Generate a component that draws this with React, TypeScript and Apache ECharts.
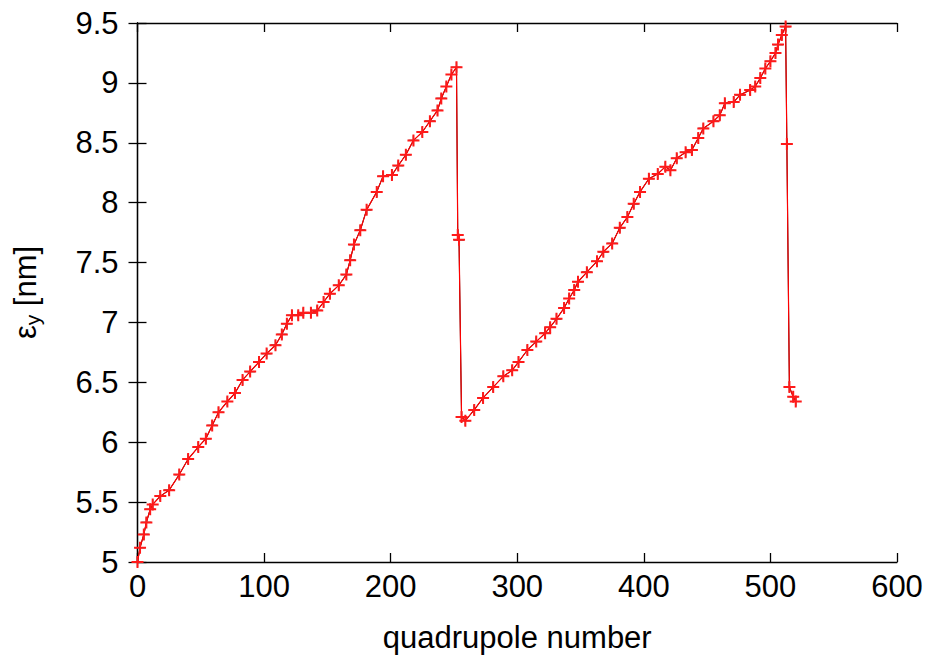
import React, { useEffect, useRef } from "react";
import * as echarts from "echarts";

const quadrupole: number[] = [
  0, 2, 5, 7, 10, 12, 18, 25, 33, 40, 48, 54, 59, 64, 71, 77, 83, 89, 96, 102,
  109, 114, 118, 122, 127, 131, 137, 142, 147, 152, 159, 165, 168, 171, 176, 181,
  189, 194, 201, 206, 212, 218, 225, 231, 237, 240, 244, 248, 252, 253, 254, 256,
  259, 266, 273, 281, 289, 296, 301, 308, 315, 322, 326, 331, 337, 341, 345, 348,
  355, 363, 368, 375, 381, 387, 392, 397, 404, 411, 417, 421, 426, 433, 438, 443,
  447, 455, 460, 464, 471, 476, 484, 488, 492, 496, 500, 504, 506, 509, 512, 513,
  515, 518, 520,
];

const emittanceY: number[] = [
  5.0, 5.12, 5.23, 5.33, 5.44, 5.48, 5.55, 5.6, 5.73, 5.86, 5.96, 6.03, 6.14, 6.25,
  6.34, 6.41, 6.52, 6.59, 6.67, 6.74, 6.81, 6.9, 6.99, 7.06, 7.06, 7.08, 7.08, 7.1,
  7.17, 7.24, 7.31, 7.4, 7.52, 7.65, 7.77, 7.94, 8.09, 8.22, 8.23, 8.31, 8.4, 8.52,
  8.59, 8.68, 8.77, 8.87, 8.97, 9.07, 9.13, 7.73, 7.69, 6.21, 6.18, 6.27, 6.37, 6.46,
  6.55, 6.6, 6.67, 6.77, 6.84, 6.91, 6.96, 7.03, 7.12, 7.2, 7.27, 7.34, 7.42, 7.51,
  7.59, 7.66, 7.79, 7.88, 7.99, 8.09, 8.2, 8.24, 8.3, 8.27, 8.37, 8.42, 8.44, 8.54,
  8.62, 8.68, 8.73, 8.83, 8.84, 8.9, 8.94, 8.97, 9.04, 9.12, 9.18, 9.25, 9.32, 9.4,
  9.47, 8.49, 6.46, 6.38, 6.34,
];

const xTicks = { min: 0, max: 600, interval: 100 };
const yTicks = { min: 5, max: 9.5, interval: 0.5 };

const FONT = "Liberation Sans";
const PLUS = "path://M0,5L10,5M5,0L5,10";

export default function App() {
  const ref = useRef<HTMLDivElement>(null);
  useEffect(() => {
    if (!ref.current) return;
    const chart = echarts.init(ref.current, undefined, { renderer: "svg" });
    const pts = quadrupole.map((x, i) => [x, emittanceY[i]]);
    const axisLine = { show: true, lineStyle: { color: "#000", width: 1.3 } };
    const tick = { show: true, inside: true, length: 9, lineStyle: { color: "#000", width: 1.3 } };
    const labelStyle = { fontFamily: FONT, fontSize: 31, color: "#000" };
    chart.setOption({
      animation: false,
      backgroundColor: "#fff",
      grid: { left: 137, right: 35, top: 23, bottom: 100, containLabel: false },
      xAxis: [
        {
          type: "value",
          ...xTicks,
          position: "bottom",
          axisLine,
          axisTick: tick,
          splitLine: { show: false },
          axisLabel: { ...labelStyle, margin: 9, formatter: (v: number) => String(v) },
          name: "quadrupole number",
          nameLocation: "middle",
          nameGap: 60,
          nameTextStyle: { fontFamily: FONT, fontSize: 31, color: "#000" },
        },
        {
          type: "value",
          ...xTicks,
          position: "top",
          axisLine,
          axisTick: tick,
          splitLine: { show: false },
          axisLabel: { show: false },
        },
      ],
      yAxis: [
        {
          type: "value",
          ...yTicks,
          position: "left",
          axisLine,
          axisTick: tick,
          splitLine: { show: false },
          axisLabel: { ...labelStyle, margin: 19, formatter: (v: number) => String(v) },
          name: "{e|ε}{s|y}{e| [nm]}",
          nameLocation: "middle",
          nameRotate: 90,
          nameGap: 92,
          nameTextStyle: {
            fontFamily: FONT,
            color: "#000",
            rich: {
              e: { fontFamily: FONT, fontSize: 31, color: "#000", lineHeight: 40 },
              s: { fontFamily: FONT, fontSize: 21, color: "#000", lineHeight: 40, padding: [14, 0, 0, 0] },
            },
          },
        },
        {
          type: "value",
          ...yTicks,
          position: "right",
          axisLine,
          axisTick: tick,
          splitLine: { show: false },
          axisLabel: { show: false },
        },
      ],
      series: [
        {
          type: "line",
          data: pts,
          xAxisIndex: 0,
          yAxisIndex: 0,
          symbol: PLUS,
          symbolSize: 10,
          lineStyle: { color: "#000", width: 1 },
          itemStyle: { color: "rgba(0,0,0,0)", borderColor: "#000", borderWidth: 1.2 },
          z: 2,
        },
        {
          type: "line",
          data: pts,
          xAxisIndex: 0,
          yAxisIndex: 0,
          symbol: PLUS,
          symbolSize: 12,
          lineStyle: { color: "#ff0000", width: 1.2 },
          itemStyle: { color: "rgba(0,0,0,0)", borderColor: "#ff1a1a", borderWidth: 2 },
          z: 3,
        },
      ],
    });
    return () => chart.dispose();
  }, []);
  return <div ref={ref} style={{ width: 932, height: 662, position: "absolute", left: 0, top: 0 }} />;
}
